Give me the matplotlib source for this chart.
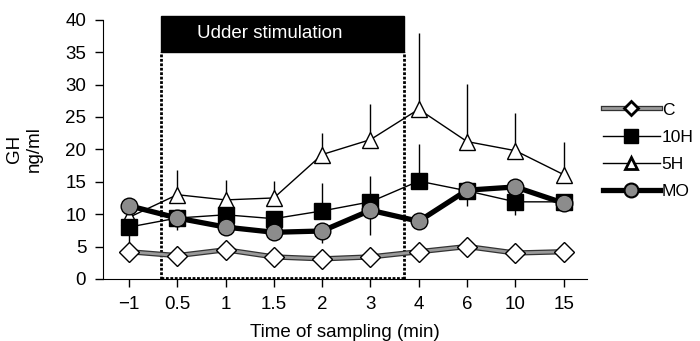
import matplotlib
matplotlib.use("Agg")
import matplotlib.pyplot as plt
from matplotlib.lines import Line2D
from matplotlib.patches import Rectangle

plt.rcParams['font.family'] = ['Liberation Sans', 'DejaVu Sans']

tiempos = ['\u22121', '0.5', '1', '1.5', '2', '3', '4', '6', '10', '15']
c_vals = [4.2, 3.6, 4.5, 3.4, 3.1, 3.4, 4.2, 5.0, 4.0, 4.2]
h10_vals = [8.0, 9.4, 9.9, 9.3, 10.5, 11.9, 15.1, 13.6, 11.9, 11.9]
h10_err_up = [0, 0, 0, 0, 4.3, 4.0, 5.7, 0, 0, 0]
h10_err_down = [2.5, 1.9, 0, 0, 0, 0, 0, 0, 2.0, 0]
h5_vals = [9.5, 13.0, 12.2, 12.5, 19.2, 21.5, 26.2, 21.2, 19.8, 16.1]
h5_err_up = [0, 3.8, 3.1, 2.6, 3.3, 5.5, 11.8, 8.9, 5.8, 5.0]
mo_vals = [11.3, 9.4, 8.0, 7.2, 7.4, 10.6, 8.9, 13.7, 14.2, 11.7]
mo_err_down = [0, 0, 1.2, 0, 1.9, 3.8, 0, 2.5, 0, 0]

x = list(range(len(tiempos)))
fs = 13.5

fig = plt.figure(figsize=(7, 3.41), dpi=100)
ax = fig.add_axes([0.147, 0.182, 0.692, 0.76])

# 5H
ax.errorbar(x, h5_vals, yerr=[[0]*10, h5_err_up], color='black', lw=1, capsize=0,
            elinewidth=1, marker='^', ms=12, mfc='white', mec='black', mew=1, zorder=3)
# 10H
ax.errorbar(x, h10_vals, yerr=[h10_err_down, h10_err_up], color='black', lw=1, capsize=0,
            elinewidth=1, marker='s', ms=11, mfc='black', mec='black', zorder=4)
# C: linea gris con borde oscuro
ax.plot(x, c_vals, color='#333333', lw=3.8, zorder=5)
ax.plot(x, c_vals, color='#9a9a9a', lw=2.0, marker='D', ms=10, mfc='white', mec='black',
        mew=1, zorder=5)
# MO
ax.errorbar(x, mo_vals, yerr=[mo_err_down, [0]*10], color='black', lw=3.8, capsize=0,
            elinewidth=1, marker='o', ms=12, mfc='#8c8c8c', mec='black', mew=1, zorder=6)

# udder stimulation box
x0, x1 = 0.66, 5.69
ax.add_patch(Rectangle((x0, 35), x1 - x0, 5.6, facecolor='black', edgecolor='black',
                       clip_on=False, zorder=7))
ax.text((x0 + x1) / 2 - 0.26, 37.9, 'Udder stimulation', color='white', fontsize=fs,
        ha='center', va='center', zorder=8)
ax.plot([x0, x0], [0, 35], color='black', lw=2, ls=(0, (1, 0.6)), zorder=2, clip_on=False)
ax.plot([x1, x1], [0, 35], color='black', lw=2, ls=(0, (1, 0.6)), zorder=2, clip_on=False)
ax.plot([x0, x1], [0.15, 0.15], color='black', lw=2, ls=(0, (1, 0.6)), zorder=2, clip_on=False)

ax.set_xlim(-0.54, 9.49)
ax.set_ylim(0, 40)
ax.set_xticks(x)
ax.set_xticklabels(tiempos)
ax.set_yticks(range(0, 41, 5))
ax.tick_params(labelsize=fs, length=6, width=1, direction='out', pad=6)
ax.spines['top'].set_visible(False)
ax.spines['right'].set_visible(False)
ax.set_xlabel('Time of sampling (min)', fontsize=fs, labelpad=8)
ax.set_ylabel('GH\nng/ml', fontsize=fs, labelpad=16, linespacing=1.25)

# leyenda
h_c = (Line2D([], [], color='#333333', lw=3.8),
       Line2D([], [], color='#9a9a9a', lw=2.0, marker='D', ms=7, mfc='white', mec='black', mew=2))
h_10 = Line2D([], [], color='black', lw=1, marker='s', ms=10, mfc='black', mec='black')
h_5 = Line2D([], [], color='black', lw=1, marker='^', ms=8, mfc='white', mec='black', mew=2)
h_mo = Line2D([], [], color='black', lw=3.8, marker='o', ms=10, mfc='#8c8c8c', mec='black', mew=1.5)
ax.legend([h_c, h_10, h_5, h_mo], ['C', '10H', '5H', 'MO'], loc='center left',
          bbox_to_anchor=(1.033, 0.494), borderpad=0, borderaxespad=0, frameon=False,
          fontsize=12.5, handlelength=3.25, handletextpad=0.12, labelspacing=0.7)

fig.savefig('out.png', dpi=100)
